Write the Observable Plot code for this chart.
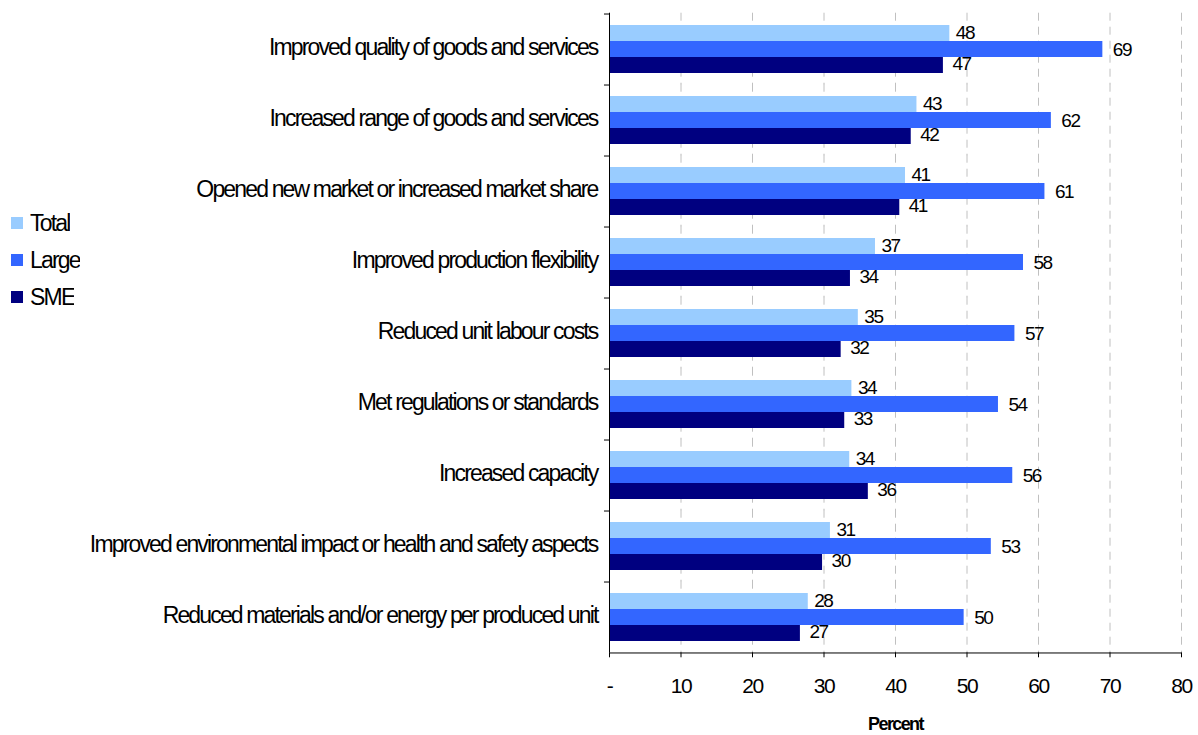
<!DOCTYPE html>
<html>
<head>
<meta charset="utf-8">
<script src="https://cdn.jsdelivr.net/npm/d3@7"></script>
<script src="https://cdn.jsdelivr.net/npm/@observablehq/plot@0.6"></script>
<style>
  html, body { margin: 0; padding: 0; background: #fff; }
  #wrap { position: relative; width: 1198px; height: 735px; }
  #legend { position: absolute; left: 11px; top: 205px; }
  .lg-swatch { height: 36px; display: flex; align-items: center; margin: 0 !important; color: #000; }
  .lg-swatch svg { margin-right: 7px !important; }
</style>
</head>
<body>
<div id="wrap"><div id="chart"></div><div id="legend"></div></div>
<script>
const categories = [
  "Improved quality of goods and services",
  "Increased range of goods and services",
  "Opened new market or increased market share",
  "Improved production flexibility",
  "Reduced unit labour costs",
  "Met regulations or standards",
  "Increased capacity",
  "Improved environmental impact or health and safety aspects",
  "Reduced materials and/or energy per produced unit"
];
const series = ["Total", "Large", "SME"];
const colors = ["#99ccff", "#3366ff", "#000080"];
const totalValues = [47.6, 43.0, 41.4, 37.2, 34.8, 33.9, 33.6, 30.9, 27.8];
const largeValues = [69.0, 61.8, 60.9, 57.9, 56.7, 54.4, 56.4, 53.4, 49.6];
const smeValues   = [46.7, 42.2, 40.6, 33.7, 32.4, 32.9, 36.2, 29.8, 26.7];
const xTicks = [0, 10, 20, 30, 40, 50, 60, 70, 80];
const xLabel = "Percent";

const FONT = "'Liberation Sans', Arial, sans-serif";

const seriesValues = {Total: totalValues, Large: largeValues, SME: smeValues};
const data = categories.flatMap((c, i) =>
  series.map(s => ({category: c, series: s, value: seriesValues[s][i]}))
);

const H = 735, mTop = 10, mBottom = 80;
const pIn = 0.315, pOut = pIn / 2;
const step = (H - mTop - mBottom) / (categories.length - pIn + 2 * pOut);
const bw = step * (1 - pIn);
const half = step * pIn / 2;

const lab = (s, dx, dy) => Plot.text(data.filter(d => d.series === s), {
  fy: "category", y: "series", x: "value",
  text: d => String(Math.round(d.value)),
  textAnchor: "start", dx, dy, fill: "#000", fontSize: 19
});

const plot = Plot.plot({
  width: 1198, height: H,
  marginLeft: 609, marginRight: 17, marginTop: mTop, marginBottom: mBottom,
  style: {fontFamily: FONT, fontSize: "21px", color: "#000", background: "#fff", overflow: "visible"},
  x: {domain: [0, 80], label: null},
  y: {domain: series, axis: null, paddingInner: 0, paddingOuter: 0},
  fy: {domain: categories, paddingInner: pIn, paddingOuter: pOut, axis: null, label: null},
  color: {domain: series, range: colors},
  marks: [
    Plot.ruleX(xTicks.slice(1), {stroke: "#c0c0c0", strokeDasharray: "8,6", insetTop: -half, insetBottom: -half}),
    Plot.barX(data, {fy: "category", y: "series", x: "value", fill: "series"}),
    lab("Total", 6, -1),
    lab("Large", 10, 0),
    lab("SME", 9, -2),
    Plot.ruleX([0], {stroke: "#000", insetTop: -half, insetBottom: -half}),
    Plot.ruleY(categories, {fy: d => d, y: () => "Total", x1: -0.7, x2: 0, stroke: "#000", dy: -(bw / 6 + half)}),
    Plot.ruleY([categories[categories.length - 1]], {fy: d => d, y: () => "SME", x1: 0, x2: 80, stroke: "#000", dy: bw / 6 + half}),
    Plot.text(categories, {fy: d => d, text: d => d, frameAnchor: "left", textAnchor: "end", dx: -12, dy: -1, fill: "#000", fontSize: 23}),
    Plot.axisX({anchor: "bottom", ticks: xTicks, tickFormat: d => d === 0 ? "-" : String(d), tickSize: 5, tickPadding: 20, dy: half, label: xLabel, labelAnchor: "center", labelOffset: 88, fontSize: 21})
  ]
});

document.getElementById("chart").appendChild(plot);

const legend = plot.legend("color", {className: "lg", columns: 1, swatchSize: 12,
  style: {fontFamily: FONT, fontSize: "23px", letterSpacing: "-1.8px"}});
document.getElementById("legend").appendChild(legend);

const catSet = new Set(categories);
d3.select(plot).selectAll("text").each(function () {
  const t = d3.select(this);
  t.style("letter-spacing", catSet.has(this.textContent) ? "-1.85px" : "-1.5px");
});
d3.select(plot).selectAll('g[aria-label="x-axis label"] text')
  .text(xLabel).style("font-weight", "bold").style("font-size", "18px").style("letter-spacing", "-1.6px");
</script>
</body>
</html>
